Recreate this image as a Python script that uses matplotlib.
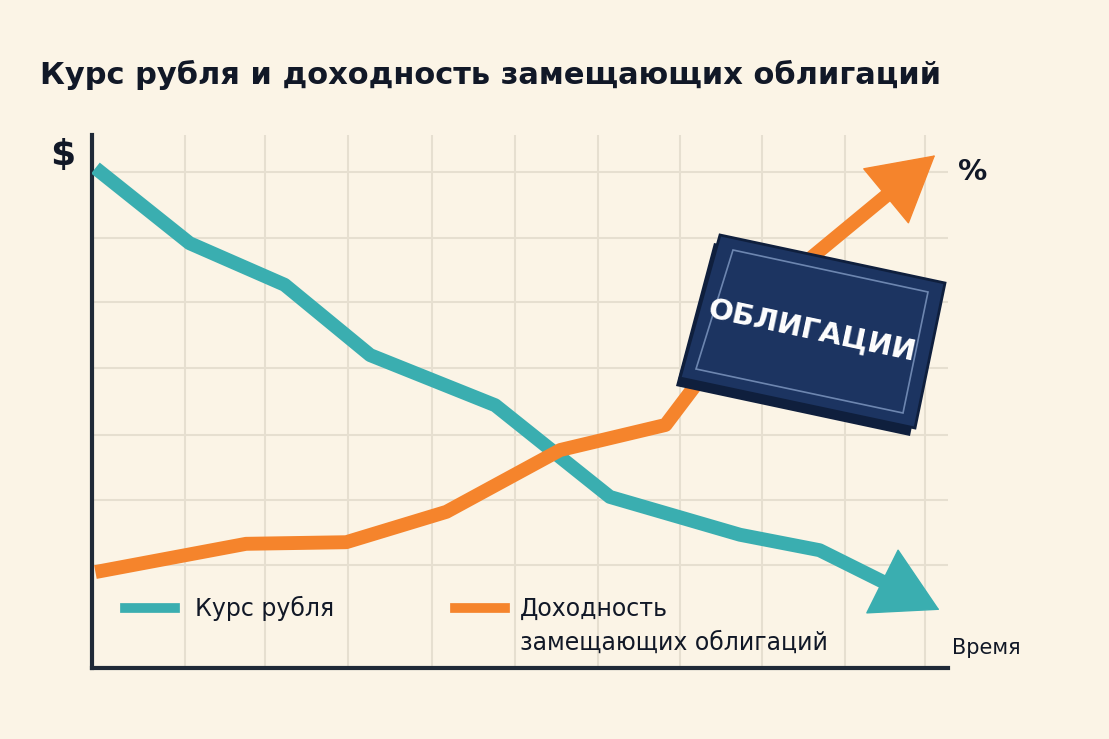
import matplotlib
matplotlib.use("Agg")
import matplotlib.pyplot as plt
from matplotlib.patches import Polygon

plt.rcParams['font.family'] = ['DejaVu Sans']

title = "Курс рубля и доходность замещающих облигаций"
rub_x = [0.04, 1.14, 2.25, 3.25, 4.71, 6.05, 7.57, 8.5, 9.9]
rub_y = [9.38, 7.97, 7.19, 5.87, 4.93, 3.21, 2.5, 2.21, 1.09]
yld_x = [0.04, 1.8, 2.97, 4.14, 5.47, 6.7, 7.8, 9.85]
yld_y = [1.8, 2.33, 2.36, 2.93, 4.09, 4.56, 6.9, 9.62]
grid_x = [1.09, 2.02, 2.99, 3.97, 4.94, 5.91, 6.87, 7.83, 8.8, 9.73]
grid_y = [1.93, 3.15, 4.37, 5.63, 6.87, 8.07, 9.3]
label_rub = "Курс рубля"
label_yld = "Доходность\nзамещающих облигаций"
box_text = "ОБЛИГАЦИИ"

W, H = 1109, 739
bg = "#fbf4e6"
teal = "#3aaeb0"
orange = "#f5842c"
navy = "#1c3461"

fig = plt.figure(figsize=(W/100, H/100), dpi=100, facecolor=bg)
ax = fig.add_axes([92/W, 71/H, 856/W, 533/H], facecolor=bg)
ax.set_xlim(0, 10)
ax.set_ylim(0, 10)
for gx in grid_x:
    ax.axvline(gx, color="#e6dfd0", lw=1.5, zorder=0)
for gy in grid_y:
    ax.axhline(gy, color="#e6dfd0", lw=1.5, zorder=0)
ax.set_xticks([]); ax.set_yticks([])
for s in ["top", "right"]:
    ax.spines[s].set_visible(False)
for s in ["left", "bottom"]:
    ax.spines[s].set_linewidth(3)
    ax.spines[s].set_color("#1f2937")

def draw(xs, ys, c):
    # line runs most of the way into the last segment, head covers the rest
    fx = xs[-2] + 0.75 * (xs[-1] - xs[-2])
    fy = ys[-2] + 0.75 * (ys[-1] - ys[-2])
    ax.plot(xs[:-1] + [fx], ys[:-1] + [fy], color=c, lw=10, solid_capstyle="butt",
            solid_joinstyle="round", zorder=3)
    sx = xs[-2] + 0.6 * (xs[-1] - xs[-2])
    sy = ys[-2] + 0.6 * (ys[-1] - ys[-2])
    ax.annotate("", xy=(xs[-1], ys[-1]), xytext=(sx, sy),
                arrowprops=dict(arrowstyle="-|>,head_length=1.6,head_width=0.9", color=c, lw=1,
                                shrinkA=0, shrinkB=0, mutation_scale=28), zorder=4)
draw(rub_x, rub_y, teal)
draw(yld_x, yld_y, orange)

def P(pts):
    return [(x/W, 1-y/H) for x, y in pts]
shadow = Polygon(P([(714, 243), (940, 290), (910, 436), (676, 386)]), closed=True,
                 transform=fig.transFigure, facecolor="#0f1f3d", zorder=5)
box = Polygon(P([(720, 235), (945, 283), (915, 428), (680, 378)]), closed=True,
              transform=fig.transFigure, facecolor=navy, edgecolor="#0f1f3d", lw=2, zorder=6)
inner = Polygon(P([(733, 250), (928, 292), (903, 413), (696, 369)]), closed=True,
                transform=fig.transFigure, facecolor="none", edgecolor="#6d86b0", lw=1.2, zorder=7)
fig.add_artist(shadow); fig.add_artist(box); fig.add_artist(inner)
fig.text(812/W, 1-331/H, box_text, color="white", fontsize=21, fontweight="bold",
         rotation=-12, ha="center", va="center", zorder=8)

fig.text(40/W, 1-75/H, title, fontsize=22, fontweight="bold", color="#111827", va="center")
fig.text(50/W, 1-155/H, "$", fontsize=26, fontweight="bold", color="#111827", va="center")
fig.text(958/W, 1-172/H, "%", fontsize=21, fontweight="bold", color="#111827", va="center")
fig.text(952/W, 1-648/H, "Время", fontsize=15, color="#111827", va="center")

fig.add_artist(plt.Line2D([125/W, 175/W], [1-608/H]*2, color=teal, lw=7, transform=fig.transFigure))
fig.text(195/W, 1-608/H, label_rub, fontsize=17, color="#111827", va="center")
fig.add_artist(plt.Line2D([455/W, 505/W], [1-608/H]*2, color=orange, lw=7, transform=fig.transFigure))
fig.text(520/W, 1-626/H, label_yld, fontsize=17, color="#111827", va="center", linespacing=1.5)

fig.savefig("out.png", dpi=100, facecolor=bg)
